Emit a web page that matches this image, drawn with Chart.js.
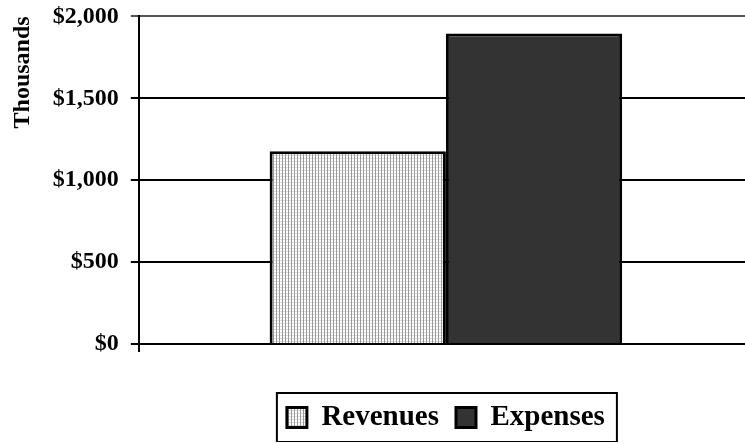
<!DOCTYPE html>
<html>
<head>
<meta charset="utf-8">
<script src="https://cdn.jsdelivr.net/npm/chart.js@4"></script>
<style>
  html, body { margin: 0; padding: 0; background: #fff; overflow: hidden; }
  #wrap { width: 745px; height: 444px; overflow: hidden; }
  #chart { display: block; margin-top: -10px; }
</style>
</head>
<body>
<div id="wrap"><canvas id="chart" width="753" height="452"></canvas></div>
<script>
const categories = [ '' ]
const seriesNames = [ 'Revenues', 'Expenses' ]
const revenues = [ 1177 ]
const expenses = [ 1896 ]
const tickValues = [ 0, 500, 1000, 1500, 2000 ]

// light hatched fill used for the revenue bar
function hatchPattern () {
  const c = document.createElement( 'canvas' )
  c.width = 3; c.height = 3
  const x = c.getContext( '2d' )
  x.fillStyle = '#ffffff'
  x.fillRect( 0, 0, 3, 3 )
  x.fillStyle = '#9a9a9a'
  x.fillRect( 0, 0, 1, 3 )
  x.fillStyle = '#dcdcdc'
  x.fillRect( 1, 0, 2, 1 )
  return x.createPattern( c, 'repeat' )
}

const serif = '"Liberation Serif", "Times New Roman", serif'

const legendBorder = {
  id: 'legendBorder',
  afterDraw( chart ) {
    const boxes = chart.legend.legendHitBoxes
    if ( !boxes || !boxes.length ) return
    const left = Math.min( ...boxes.map( b => b.left ) ) - 10
    const right = Math.max( ...boxes.map( b => b.left + b.width ) ) + 12
    const top = Math.min( ...boxes.map( b => b.top ) ) - 10
    const bottom = Math.max( ...boxes.map( b => b.top + b.height ) ) + 10
    const ctx = chart.ctx
    ctx.save()
    ctx.strokeStyle = '#000'
    ctx.lineWidth = 2
    ctx.strokeRect( left, top, right - left, bottom - top )
    ctx.restore()
  }
}

const data = {
  labels: categories,
  datasets: [ {
    label: seriesNames[ 0 ],
    data: revenues,
    backgroundColor: hatchPattern(),
    borderColor: '#000',
    borderWidth: 3,
    borderSkipped: 'bottom'
  }, {
    label: seriesNames[ 1 ],
    data: expenses,
    backgroundColor: '#333333',
    borderColor: '#000',
    borderWidth: 3,
    borderSkipped: 'bottom'
  } ]
}

const config = {
  type: 'bar',
  data: data,
  options: {
    responsive: false,
    animation: false,
    layout: { padding: { top: 2, right: 0, bottom: 0, left: 0 } },
    datasets: { bar: { categoryPercentage: 0.574, barPercentage: 1 } },
    plugins: {
      tooltip: { enabled: false },
      legend: {
        position: 'bottom',
        fullSize: false,
        labels: {
          color: '#000',
          font: { family: serif, size: 29, weight: 'bold' },
          boxWidth: 20,
          boxHeight: 20,
          padding: 17
        }
      }
    },
    scales: {
      x: {
        grid: { display: true, drawOnChartArea: false, offset: true, color: '#000', lineWidth: 2, tickLength: 8 },
        border: { display: true, color: '#000', width: 2 },
        ticks: { display: true, font: { family: serif, size: 20, weight: 'bold' }, padding: 5 }
      },
      y: {
        min: 0,
        max: 2000,
        afterBuildTicks: axis => { axis.ticks = tickValues.map( v => ( { value: v } ) ) },
        grid: {
          color: ctx => ctx.tick && ctx.tick.value === 2000 ? '#555' : '#000',
          lineWidth: 2,
          tickLength: 8
        },
        border: { display: true, color: '#000', width: 2 },
        ticks: {
          color: '#000',
          padding: 12,
          font: { family: serif, size: 24, weight: 'bold' },
          callback: v => '$' + v.toLocaleString( 'en-US' )
        },
        title: {
          display: true,
          text: 'Thousands',
          align: 'end',
          color: '#000',
          font: { family: serif, size: 24, weight: 'bold' },
          padding: { top: 8, bottom: 4 }
        }
      }
    }
  },
  plugins: [ legendBorder ]
}

const graph = new Chart( document.getElementById( 'chart' ), config )
</script>
</body>
</html>
